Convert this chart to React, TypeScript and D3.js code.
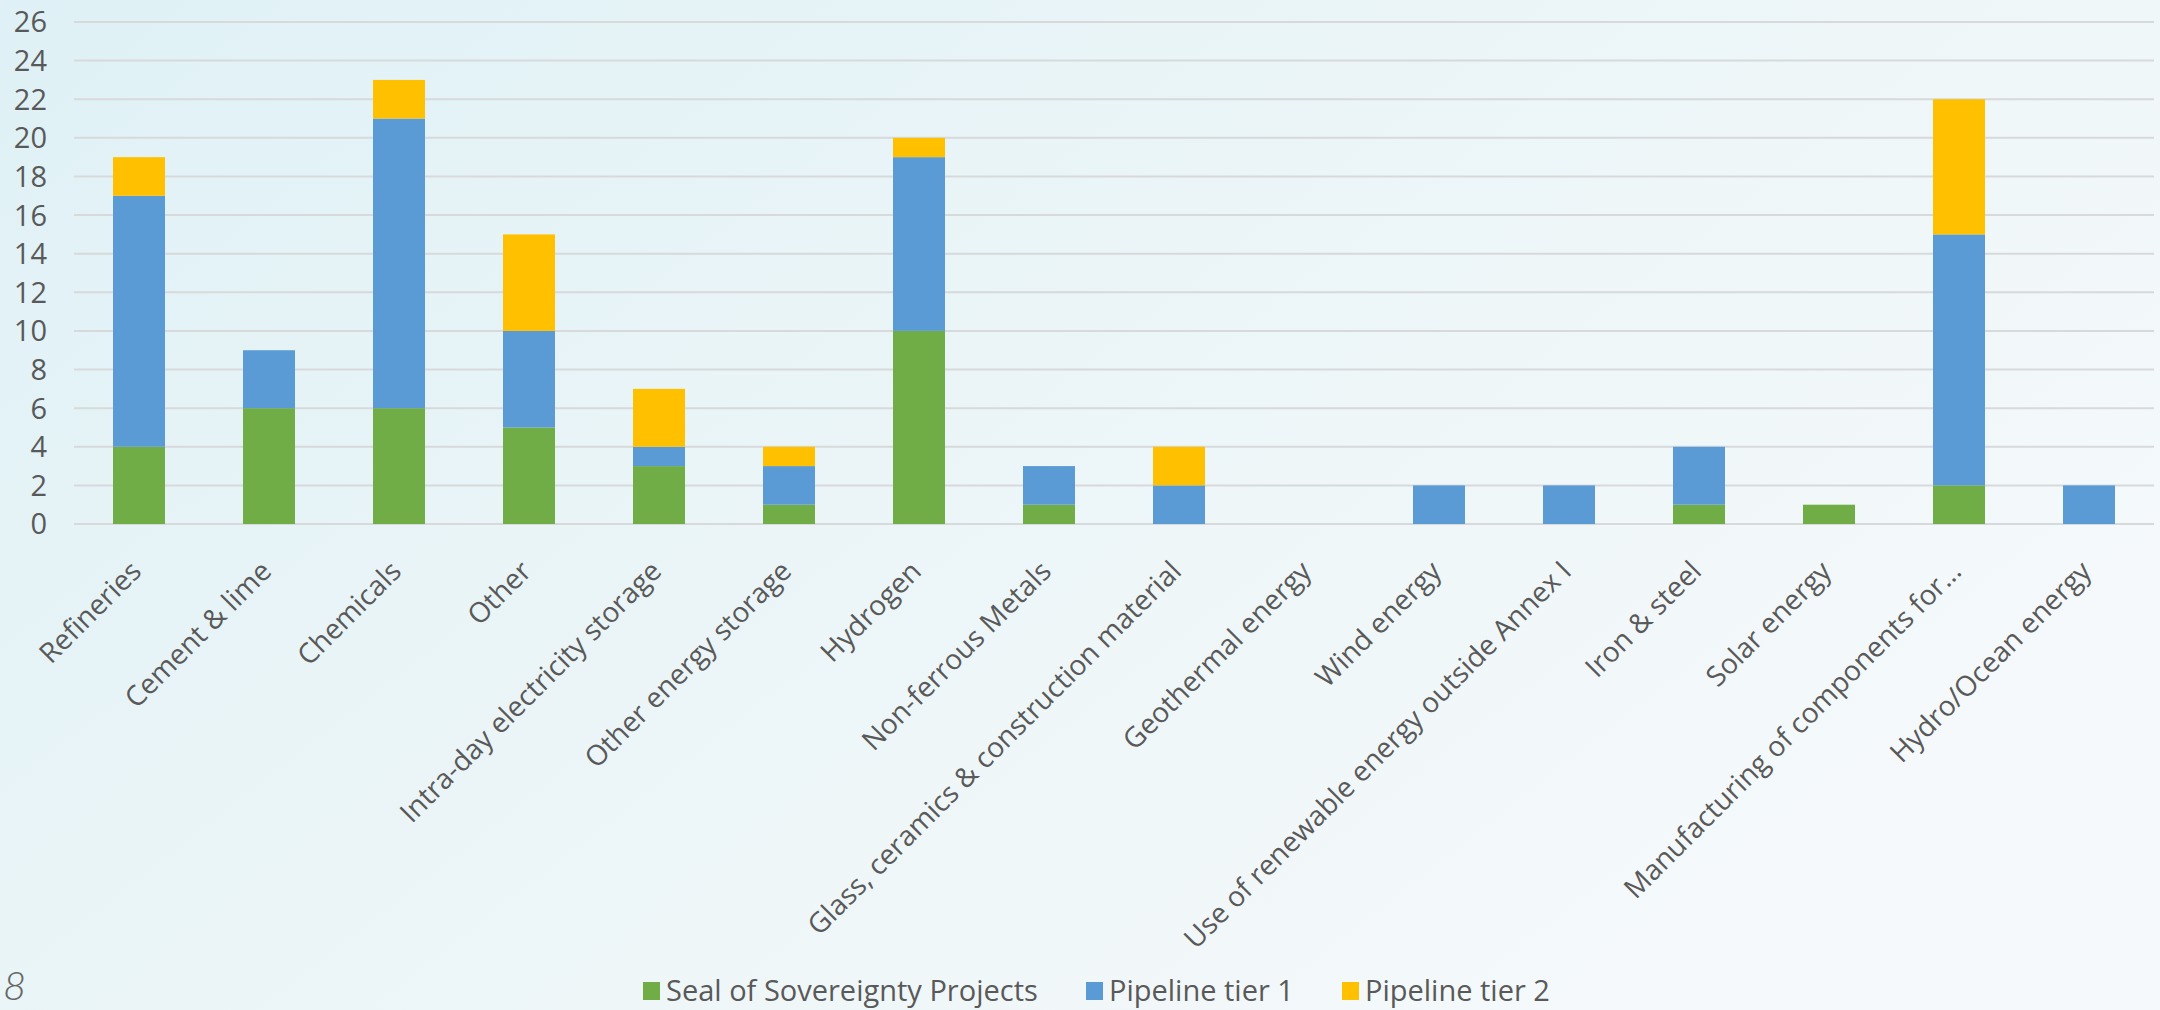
import React from "react";
import * as d3 from "d3";

const categories = [
  "Refineries",
  "Cement & lime",
  "Chemicals",
  "Other",
  "Intra-day electricity storage",
  "Other energy storage",
  "Hydrogen",
  "Non-ferrous Metals",
  "Glass, ceramics & construction material",
  "Geothermal energy",
  "Wind energy",
  "Use of renewable energy outside Annex I",
  "Iron & steel",
  "Solar energy",
  "Manufacturing of components for...",
  "Hydro/Ocean energy",
];
const sealValues = [4, 6, 6, 5, 3, 1, 10, 1, 0, 0, 0, 0, 1, 1, 2, 0];
const tier1Values = [13, 3, 15, 5, 1, 2, 9, 2, 2, 0, 2, 2, 3, 0, 13, 2];
const tier2Values = [2, 0, 2, 5, 3, 1, 1, 0, 2, 0, 0, 0, 0, 0, 7, 0];
const seriesNames = ["Seal of Sovereignty Projects", "Pipeline tier 1", "Pipeline tier 2"];
const seriesColors = ["#70AD47", "#5B9BD5", "#FFC000"];
const yTicks = [0, 2, 4, 6, 8, 10, 12, 14, 16, 18, 20, 22, 24, 26];

const W = 2160;
const H = 1010;
const FONT = "'Open Sans', sans-serif";
const TEXT = "#595959";

export default function App() {
  const left = 74;
  const right = 2154;
  const top = 22;
  const bottom = 524;

  const x = d3.scaleBand<string>().domain(categories).range([left, right]).paddingInner(0.6).paddingOuter(0.3);
  const y = d3.scaleLinear().domain([0, 26]).range([bottom, top]);

  const rows = categories.map((c, i) => ({ cat: c, s0: sealValues[i], s1: tier1Values[i], s2: tier2Values[i] }));
  const stack = d3.stack<any>().keys(["s0", "s1", "s2"])(rows);

  const legendX = [643, 1086, 1342];

  return (
    <svg width={W} height={H} style={{ position: "absolute", left: 0, top: 0 }}>
      <defs>
        <linearGradient id="bg" x1="0" y1="0" x2="1" y2="0.6">
          <stop offset="0" stopColor="#dff1f6" />
          <stop offset="0.5" stopColor="#ebf5f7" />
          <stop offset="1" stopColor="#f5f9fb" />
        </linearGradient>
      </defs>
      <rect x={0} y={0} width={W} height={H} fill="url(#bg)" />
      {yTicks.map((t) => (
        <g key={t}>
          <line x1={left} x2={right} y1={y(t)} y2={y(t)} stroke="#d7d9db" strokeWidth={2} />
          <text x={47} y={y(t)} dy="0.36em" textAnchor="end" fontFamily={FONT} fontSize={29} fill={TEXT}>
            {t}
          </text>
        </g>
      ))}
      {stack.map((layer, li) => (
        <g key={li} fill={seriesColors[li]}>
          {layer.map((d, i) =>
            d[1] - d[0] > 0 ? (
              <rect
                key={i}
                x={x(categories[i])}
                width={x.bandwidth()}
                y={y(d[1])}
                height={y(d[0]) - y(d[1])}
              />
            ) : null
          )}
        </g>
      ))}
      {categories.map((c) => {
        const cx = (x(c) as number) + x.bandwidth() / 2;
        return (
          <text
            key={c}
            transform={`translate(${cx + 4},${573}) rotate(-45)`}
            textAnchor="end"
            fontFamily={FONT}
            fontSize={28}
            fill={TEXT}
          >
            {c}
          </text>
        );
      })}
      {seriesNames.map((n, i) => (
        <g key={n}>
          <rect x={legendX[i]} y={982} width={17} height={18} fill={seriesColors[i]} />
          <text x={legendX[i] + 23} y={1001} fontFamily={FONT} fontSize={29} fill={TEXT}>
            {n}
          </text>
        </g>
      ))}
      <text x={3} y={1000} fontFamily="Lato, sans-serif" fontWeight={300} fontStyle="italic" fontSize={40} fill="#666">
        8
      </text>
    </svg>
  );
}
